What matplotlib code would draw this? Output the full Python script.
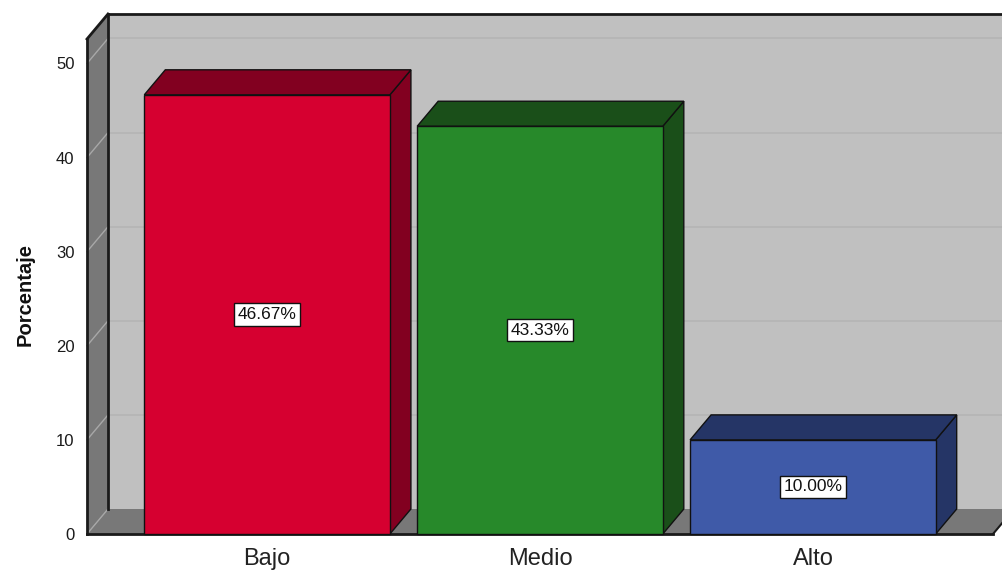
import matplotlib
matplotlib.use("Agg")
import matplotlib.pyplot as plt
from matplotlib.patches import Polygon, Rectangle

categories = ["Bajo", "Medio", "Alto"]
values = [46.67, 43.33, 10.00]
labels = ["46.67%", "43.33%", "10.00%"]
yticks = [0, 10, 20, 30, 40, 50]
front_colors = ["#D60030", "#27892A", "#3F5AA8"]
dark_colors = ["#820020", "#1A4F19", "#253566"]

plt.rcParams['font.family'] = ['Liberation Sans', 'DejaVu Sans']

W, H = 1002, 572
fig = plt.figure(figsize=(W / 100, H / 100), dpi=100)
L, R, B, T = 87, 993, 534, 39
ax = fig.add_axes([L / W, 1 - B / H, (R - L) / W, (B - T) / H])
xmin, xmax = -0.66, len(categories) - 1 + 0.66
ymax = 52.6
ax.set_xlim(xmin, xmax)
ax.set_ylim(0, ymax)
for s in ax.spines.values():
    s.set_visible(False)
ax.patch.set_visible(False)

pxx = (R - L) / (xmax - xmin)
pxy = (B - T) / ymax
dx = 21 / pxx
dy = 25 / pxy

# back wall
ax.add_patch(Rectangle((xmin + dx, dy), xmax - xmin, ymax, facecolor="#C0C0C0",
                       edgecolor="none", clip_on=False, zorder=1))
# gridlines on back wall and left wall
for t in yticks[1:]:
    ax.plot([xmin + dx, xmax + dx], [t + dy, t + dy], color="#B4B4B4", lw=1.2,
            clip_on=False, zorder=1.5)
# left wall
ax.add_patch(Polygon([(xmin, 0), (xmin + dx, dy), (xmin + dx, ymax + dy), (xmin, ymax)],
                     closed=True, facecolor="#787878", edgecolor="none", clip_on=False, zorder=2))
for t in yticks:
    ax.plot([xmin, xmin + dx], [t, t + dy], color="#A8A8A8", lw=1.0, clip_on=False, zorder=2.2)
# floor
ax.add_patch(Polygon([(xmin, 0), (xmax, 0), (xmax + dx, dy), (xmin + dx, dy)],
                     closed=True, facecolor="#787878", edgecolor="none", clip_on=False, zorder=2))
# frame lines
k = dict(color="#1A1A1A", lw=2.0, clip_on=False, zorder=2.5, solid_capstyle="projecting")
ax.plot([xmin, xmin], [0, ymax], **k)
ax.plot([xmin, xmin + dx], [ymax, ymax + dy], **k)
ax.plot([xmin + dx, xmax + dx], [ymax + dy, ymax + dy], **k)
ax.plot([xmin + dx, xmin + dx], [dy, ymax + dy], **k)
ax.plot([xmin, xmax], [0, 0], **k)
ax.plot([xmax, xmax + dx], [0, dy], color="#1A1A1A", lw=1.5, clip_on=False, zorder=2.5)

# bars
bw = 0.9
for i, (v, fc, dc, lab) in enumerate(zip(values, front_colors, dark_colors, labels)):
    x0, x1 = i - bw / 2, i + bw / 2
    ek = dict(edgecolor="#111111", lw=1.0, clip_on=False, zorder=3, joinstyle="miter")
    ax.add_patch(Polygon([(x1, 0), (x1 + dx, dy), (x1 + dx, v + dy), (x1, v)], closed=True,
                         facecolor=dc, **ek))
    ax.add_patch(Polygon([(x0, v), (x1, v), (x1 + dx, v + dy), (x0 + dx, v + dy)], closed=True,
                         facecolor=dc, **ek))
    ax.add_patch(Rectangle((x0, 0), bw, v, facecolor=fc, **ek))
    ax.text(i, v / 2, lab, ha="center", va="center", fontsize=12.5, color="#111111", zorder=5,
            bbox=dict(boxstyle="square,pad=0.22", facecolor="white", edgecolor="#111111", lw=1))

ax.set_yticks(yticks)
ax.set_yticklabels([str(t) for t in yticks], fontsize=12, color="#1A1A1A")
ax.set_xticks(range(len(categories)))
ax.set_xticklabels(categories, fontsize=17, color="#222222")
ax.tick_params(axis="y", length=0, pad=9)
ax.tick_params(axis="x", length=0, pad=10)

fig.text(25 / W, 1 - 295 / H, "Porcentaje", rotation=90, ha="center", va="center",
         fontsize=14.5, fontweight="bold", color="#111111")

fig.savefig("out.png", dpi=100, facecolor="white")
